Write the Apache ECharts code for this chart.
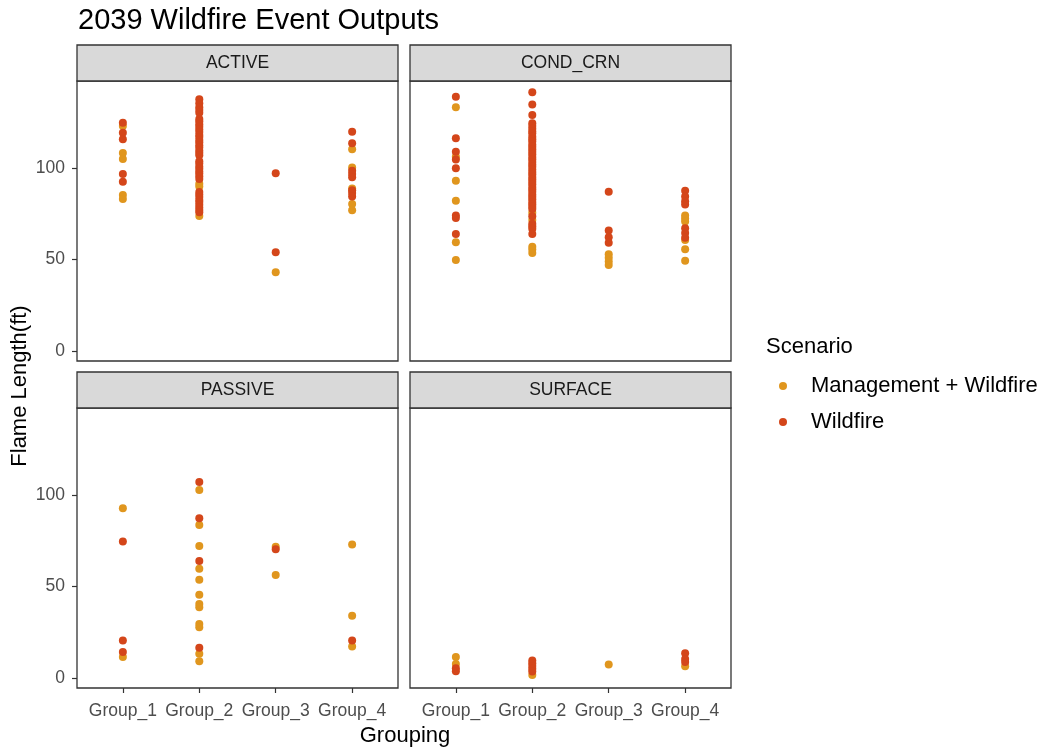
<!DOCTYPE html>
<html>
<head>
<meta charset="utf-8">
<script src="https://cdn.jsdelivr.net/npm/echarts@6/dist/echarts.min.js"></script>
<style>
  html, body { margin: 0; padding: 0; background: #ffffff; }
  #chart { width: 1043px; height: 748px; }
</style>
</head>
<body>
<div id="chart"></div>
<script>
// Flame length (ft) per event, by grouping, for each fire type and scenario.
const groups = ['Group_1', 'Group_2', 'Group_3', 'Group_4'];
const scenarios = ['Management + Wildfire', 'Wildfire'];
const yTicks = [0, 50, 100];

// ACTIVE
const activeMgmt = [
  [123.2, 108.4, 105.1, 85.4, 83.2],
  [91.6, 90.0, 73.9],
  [43.1],
  [110.4, 100.5, 89.0, 80.5, 77.0]
];
const activeWild = [
  [125.0, 119.5, 115.9, 96.9, 92.7],
  [137.8, 135.6, 133.4, 131.9, 130.4, 127.0, 125.7, 124.1, 122.8, 121.2, 119.9, 118.3,
   117.1, 115.5, 114.3, 112.6, 111.4, 109.8, 108.5, 107.1, 103.9, 102.6, 101.0, 99.8,
   98.3, 97.1, 95.6, 94.2, 87.0, 85.6, 84.3, 82.7, 81.5, 80.0, 78.6, 77.2, 76.0],
  [97.3, 54.0],
  [120.0, 113.7, 98.7, 96.9, 95.1, 88.0, 86.5, 84.5]
];

// COND_CRN
const condMgmt = [
  [133.4, 106.3, 93.2, 82.3, 59.5, 49.8],
  [75.7, 71.7, 57.1, 55.5, 53.6],
  [53.0, 51.0, 49.0, 47.0],
  [74.2, 72.5, 70.9, 60.8, 55.7, 49.4]
];
const condWild = [
  [139.2, 116.4, 109.0, 104.8, 100.0, 74.2, 72.8, 64.0],
  [141.6, 135.0, 129.2, 124.6, 123.1, 121.7, 120.2, 119.0, 117.3, 115.9, 114.7, 113.1,
   111.8, 110.4, 109.0, 107.7, 106.2, 105.0, 103.5, 102.1, 100.9, 99.4, 98.0, 96.8,
   95.3, 94.0, 92.6, 91.3, 89.8, 88.5, 87.2, 85.7, 84.4, 83.1, 81.6, 80.3, 78.9,
   77.7, 73.7, 69.6, 68.3, 66.9, 64.0],
  [87.2, 65.9, 62.2, 59.3],
  [87.7, 84.5, 82.0, 80.2, 67.2, 64.6, 62.0]
];

// PASSIVE
const passiveMgmt = [
  [92.9, 11.5],
  [102.9, 83.8, 72.2, 59.8, 53.8, 45.6, 40.5, 38.7, 29.6, 27.8, 13.3, 9.1],
  [71.8, 56.4],
  [73.1, 34.0, 17.2]
];
const passiveWild = [
  [74.7, 20.5, 14.2],
  [107.3, 87.5, 64.0, 16.5],
  [70.5],
  [20.5]
];

// SURFACE
const surfaceMgmt = [
  [11.5, 7.6],
  [1.6],
  [7.4],
  [6.4]
];
const surfaceWild = [
  [5.3, 3.7],
  [9.6, 8.1, 6.5, 5.0, 3.5],
  [],
  [13.5, 10.4, 8.8]
];

const colors = { 'Management + Wildfire': '#E0961E', 'Wildfire': '#D4461A' };
const FONT = '"Liberation Sans", Arial, sans-serif';

// 2x2 facet layout (pixels)
const PW = 321, PH = 280, STRIP = 36;
const panels = [
  { name: 'ACTIVE',   left: 77,  top: 81,  mgmt: activeMgmt,  wild: activeWild,  xLab: false, yLab: true },
  { name: 'COND_CRN', left: 410, top: 81,  mgmt: condMgmt,    wild: condWild,    xLab: false, yLab: false },
  { name: 'PASSIVE',  left: 77,  top: 408, mgmt: passiveMgmt, wild: passiveWild, xLab: true,  yLab: true },
  { name: 'SURFACE',  left: 410, top: 408, mgmt: surfaceMgmt, wild: surfaceWild, xLab: true,  yLab: false }
];

function toPoints(byGroup) {
  const out = [];
  byGroup.forEach((vals, g) => vals.forEach(v => out.push([g + 1, v])));
  return out;
}

const grid = [], xAxis = [], yAxis = [], series = [], graphic = [];
const tickStyle = { color: '#333333', width: 1.2 };

panels.forEach((p, i) => {
  grid.push({
    left: p.left, top: p.top, width: PW, height: PH,
    show: true, borderColor: '#333333', borderWidth: 1.3, backgroundColor: '#ffffff'
  });
  xAxis.push({
    type: 'value', gridIndex: i, min: 0.4, max: 4.6, position: 'bottom',
    axisLine: { show: false, onZero: false },
    splitLine: { show: false },
    axisTick: { show: p.xLab, length: 5, lineStyle: tickStyle, customValues: [1, 2, 3, 4] },
    axisLabel: {
      show: p.xLab, customValues: [1, 2, 3, 4], margin: 14,
      formatter: v => groups[Math.round(v) - 1],
      color: '#4D4D4D', fontSize: 17.5, fontFamily: FONT
    }
  });
  yAxis.push({
    type: 'value', gridIndex: i, min: -5.5, max: 147.8, position: 'left',
    axisLine: { show: false, onZero: false },
    splitLine: { show: false },
    axisTick: { show: p.yLab, length: 5, lineStyle: tickStyle, customValues: yTicks },
    axisLabel: {
      show: p.yLab, customValues: yTicks, margin: 12,
      color: '#4D4D4D', fontSize: 17.5, fontFamily: FONT
    }
  });
  [['Management + Wildfire', p.mgmt], ['Wildfire', p.wild]].forEach(([name, vals]) => {
    series.push({
      type: 'scatter', name: name, xAxisIndex: i, yAxisIndex: i,
      data: toPoints(vals), symbol: 'circle', symbolSize: 8,
      itemStyle: { color: colors[name], opacity: 1 },
      emphasis: { disabled: true }, silent: true
    });
  });
  // facet strip
  graphic.push({
    type: 'rect',
    shape: { x: p.left, y: p.top - STRIP, width: PW, height: STRIP },
    style: { fill: '#D9D9D9', stroke: '#333333', lineWidth: 1.3 },
    silent: true
  });
  graphic.push({
    type: 'text',
    style: {
      text: p.name, x: p.left + PW / 2, y: p.top - STRIP / 2,
      align: 'center', verticalAlign: 'middle',
      fontSize: 17.5, fontFamily: FONT, fill: '#1A1A1A'
    },
    silent: true
  });
});

// axis titles and legend title
graphic.push({
  type: 'text',
  style: { text: 'Grouping', x: 405, y: 736, align: 'center', verticalAlign: 'middle',
           fontSize: 22, fontFamily: FONT, fill: '#000000' }
});
graphic.push({
  type: 'text', x: 20, y: 386, rotation: Math.PI / 2,
  style: { text: 'Flame Length(ft)', x: 0, y: 0, align: 'center', verticalAlign: 'middle',
           fontSize: 22, fontFamily: FONT, fill: '#000000' }
});
graphic.push({
  type: 'text',
  style: { text: 'Scenario', x: 766, y: 347, align: 'left', verticalAlign: 'middle',
           fontSize: 22, fontFamily: FONT, fill: '#000000' }
});

const chart = echarts.init(document.getElementById('chart'), null, { renderer: 'canvas' });
chart.setOption({
  animation: false,
  backgroundColor: '#ffffff',
  title: {
    text: '2039 Wildfire Event Outputs', left: 73, top: 1,
    textStyle: { fontSize: 29, fontWeight: 'normal', color: '#000000', fontFamily: FONT }
  },
  legend: {
    data: scenarios, orient: 'vertical', left: 774, top: 369,
    icon: 'circle', itemWidth: 46, itemHeight: 8, itemGap: 12,
    textStyle: { fontSize: 22, color: '#000000', fontFamily: FONT, lineHeight: 24 },
    selectedMode: false
  },
  grid: grid, xAxis: xAxis, yAxis: yAxis, series: series, graphic: graphic
});
</script>
</body>
</html>
